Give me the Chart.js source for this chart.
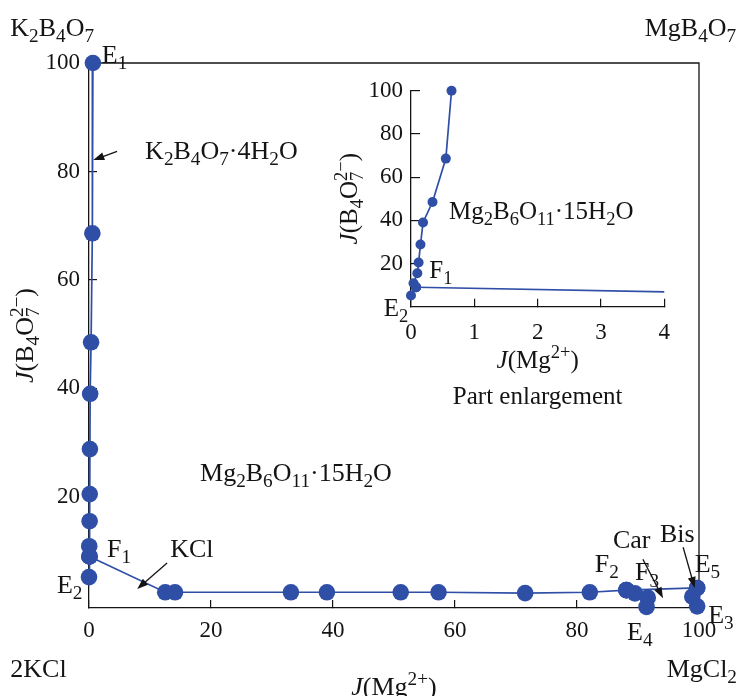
<!DOCTYPE html>
<html lang="en">
<head>
<meta charset="UTF-8">
<title>K2B4O7 – MgB4O7 – 2KCl – MgCl2 diagram</title>
<script src="https://cdn.jsdelivr.net/npm/chart.js"></script>
<style>
  body { margin: 0; background: #fff; }
  .wrap { position: relative; width: 739px; height: 696px; }
  #mainChart { position: absolute; left: 0; top: 0; }
  #insetChart { position: absolute; left: 330px; top: 60px; }
</style>
</head>
<body>
<div class="wrap">
  <canvas id="mainChart" width="739" height="696"></canvas>
  <canvas id="insetChart" width="360" height="360"></canvas>
</div>
<script>
// ---- data ----
// E1 -> F1 (K2B4O7·4H2O / Mg2B6O11·15H2O boundary)
const e1f1X = [0.64, 0.55, 0.34, 0.19, 0.15, 0.12, 0.10, 0.04, 0.08];
const e1f1Y = [100, 68.6, 48.5, 39.0, 28.8, 20.5, 15.5, 10.9, 9.0];
// E2 -> F1
const e2f1X = [0, 0.08];
const e2f1Y = [5.2, 9.0];
// F1 -> F2 (KCl line)
const f1f2X = [0.08, 12.5, 14.1, 33.1, 39.0, 51.1, 57.3, 71.5, 82.1, 88.1];
const f1f2Y = [9.0, 2.4, 2.4, 2.4, 2.4, 2.4, 2.4, 2.25, 2.4, 2.8];
// F2 -> E5
const f2e5X = [88.1, 99.7];
const f2e5Y = [2.8, 3.2];
// F2 -> F3 -> E4
const f2e4X = [88.1, 89.5, 91.6, 91.4];
const f2e4Y = [2.8, 2.2, 1.4, -0.3];
// E5 -> E3
const e5e3X = [99.7, 98.9, 99.7];
const e5e3Y = [3.2, 1.6, -0.2];

const mainXTicks = [0, 20, 40, 60, 80, 100];
const mainYTicks = [20, 40, 60, 80, 100];
const insetXTicks = [0, 1, 2, 3, 4];
const insetYTicks = [20, 40, 60, 80, 100];

const BLUE = '#2f4ea6';
const INK = '#141414';
const SERIF = '"Liberation Serif", "Times New Roman", serif';

// ---- rich text: _{sub} ^{sup} *italic* ----
function richParts(str) {
    const re = /_\{([^}]*)\}|\^\{([^}]*)\}|\*([^*]*)\*|([^_^*]+)/g;
    const parts = [];
    let m;
    while ((m = re.exec(str))) {
        if (m[1] !== undefined) parts.push({ t: m[1], k: 'sub' });
        else if (m[2] !== undefined) parts.push({ t: m[2], k: 'sup' });
        else if (m[3] !== undefined) parts.push({ t: m[3], k: 'it' });
        else parts.push({ t: m[4], k: 'n' });
    }
    return parts;
}

function drawRich(ctx, str, x, y, size, align) {
    const items = [];
    let cx = 0, prev = null;
    richParts(str).forEach(p => {
        const small = p.k === 'sub' || p.k === 'sup';
        const fs = small ? size * 0.74 : size;
        const font = (p.k === 'it' ? 'italic ' : '') + fs + 'px ' + SERIF;
        ctx.font = font;
        const w = ctx.measureText(p.t).width;
        let x0 = cx;
        const stack = small && prev && prev.k !== p.k;
        if (stack) x0 = prev.x;
        const dy = p.k === 'sub' ? size * 0.24 : p.k === 'sup' ? -size * 0.4 : 0;
        items.push({ t: p.t, x: x0, dy, font });
        cx = stack ? Math.max(cx, x0 + w) : x0 + w;
        prev = small ? { k: p.k, x: x0 } : null;
    });
    let off = 0;
    if (align === 'center') off = -cx / 2;
    if (align === 'right') off = -cx;
    ctx.fillStyle = INK;
    ctx.textBaseline = 'alphabetic';
    ctx.textAlign = 'left';
    items.forEach(it => {
        ctx.font = it.font;
        ctx.fillText(it.t, x + off + it.x, y + it.dy);
    });
}

function drawArrow(ctx, x1, y1, x2, y2) {
    const a = Math.atan2(y2 - y1, x2 - x1);
    const len = 11, hw = 4;
    ctx.save();
    ctx.strokeStyle = INK;
    ctx.fillStyle = INK;
    ctx.lineWidth = 1.3;
    ctx.beginPath();
    ctx.moveTo(x1, y1);
    ctx.lineTo(x2 - Math.cos(a) * len * 0.8, y2 - Math.sin(a) * len * 0.8);
    ctx.stroke();
    ctx.beginPath();
    ctx.moveTo(x2, y2);
    ctx.lineTo(x2 - Math.cos(a) * len - Math.sin(a) * hw, y2 - Math.sin(a) * len + Math.cos(a) * hw);
    ctx.lineTo(x2 - Math.cos(a) * len + Math.sin(a) * hw, y2 - Math.sin(a) * len - Math.cos(a) * hw);
    ctx.closePath();
    ctx.fill();
    ctx.restore();
}

function pts(xs, ys) {
    return xs.map((x, i) => ({ x: x, y: ys[i] }));
}

function series(xs, ys, r, clip) {
    return {
        data: pts(xs, ys),
        showLine: true,
        borderColor: BLUE,
        backgroundColor: BLUE,
        borderWidth: 1.7,
        pointRadius: r,
        pointHoverRadius: r,
        pointBorderWidth: 0,
        tension: 0,
        clip: clip === undefined ? false : clip
    };
}

// ---- labels (in data units of each chart) ----
const mainLabels = [
    { text: 'E_{1}', x: 2.1, y: 100.0 },
    { text: 'K_{2}B_{4}O_{7}·4H_{2}O', x: 9.2, y: 82.3 },
    { text: 'Mg_{2}B_{6}O_{11}·15H_{2}O', x: 18.2, y: 23.0 },
    { text: 'F_{1}', x: 2.95, y: 8.9 },
    { text: 'KCl', x: 13.3, y: 8.9 },
    { text: 'E_{2}', x: -5.25, y: 2.3 },
    { text: 'F_{2}', x: 82.9, y: 6.1 },
    { text: 'Car', x: 85.9, y: 10.5 },
    { text: 'F_{3}', x: 89.5, y: 4.6 },
    { text: 'Bis', x: 93.6, y: 11.6 },
    { text: 'E_{5}', x: 99.3, y: 6.1 },
    { text: 'E_{3}', x: 101.5, y: -3.3 },
    { text: 'E_{4}', x: 88.2, y: -6.4 },
    { text: 'K_{2}B_{4}O_{7}', x: -12.9, y: 105.0 },
    { text: 'MgB_{4}O_{7}', x: 91.1, y: 105.0 },
    { text: '2KCl', x: -12.9, y: -13.2 },
    { text: 'MgCl_{2}', x: 94.7, y: -13.2 }
];
const mainArrows = [
    { x1: 4.6, y1: 83.7, x2: 0.7, y2: 82.1 },
    { x1: 12.8, y1: 7.8, x2: 7.9, y2: 3.0 },
    { x1: 90.8, y1: 8.5, x2: 94.1, y2: 1.3 },
    { x1: 97.4, y1: 10.7, x2: 99.3, y2: 3.2 }
];
const insetLabels = [
    { text: 'Mg_{2}B_{6}O_{11}·15H_{2}O', x: 0.6, y: 40.8 },
    { text: 'F_{1}', x: 0.29, y: 13.5 },
    { text: 'E_{2}', x: -0.43, y: -4.2 }
];

function axisOpts(ticks, min, max, fit, tl, pad) {
    return {
        type: 'linear',
        min: min,
        max: max,
        afterBuildTicks: s => { s.ticks = ticks.map(v => ({ value: v })); },
        afterFit: fit,
        grid: { drawOnChartArea: false, drawTicks: true, tickLength: tl, color: INK, lineWidth: 1.2 },
        border: { display: true, color: INK, width: 1.3 },
        ticks: { color: INK, padding: pad, font: { family: SERIF, size: 23 } }
    };
}

// ---- main chart ----
const mainDecor = {
    id: 'mainDecor',
    beforeDatasetsDraw(chart) {
        const { ctx, chartArea: ca } = chart;
        ctx.save();
        ctx.strokeStyle = INK;
        ctx.lineWidth = 1.3;
        ctx.beginPath();
        ctx.moveTo(ca.left, ca.top);
        ctx.lineTo(ca.right, ca.top);
        ctx.lineTo(ca.right, ca.bottom);
        ctx.stroke();
        ctx.restore();
    },
    afterDraw(chart) {
        const { ctx, chartArea: ca, scales: { x, y } } = chart;
        ctx.save();
        mainLabels.forEach(l => {
            drawRich(ctx, l.text, x.getPixelForValue(l.x), y.getPixelForValue(l.y), 26, 'left');
        });
        mainArrows.forEach(a => {
            drawArrow(ctx, x.getPixelForValue(a.x1), y.getPixelForValue(a.y1),
                x.getPixelForValue(a.x2), y.getPixelForValue(a.y2));
        });
        drawRich(ctx, '*J*(Mg^{2+})', (ca.left + ca.right) / 2, 695, 26, 'center');
        ctx.translate(33, (ca.top + ca.bottom) / 2);
        ctx.rotate(-Math.PI / 2);
        drawRich(ctx, '*J*(B_{4}O_{7}^{2−})', 0, 0, 26, 'center');
        ctx.restore();
    }
};

new Chart(document.getElementById('mainChart'), {
    type: 'scatter',
    data: {
        datasets: [
            series(e1f1X, e1f1Y, 8.3),
            series(e2f1X, e2f1Y, 8.3),
            series(f1f2X, f1f2Y, 8.3),
            series(f2e5X, f2e5Y, 8.3),
            series(f2e4X, f2e4Y, 8.3),
            series(e5e3X, e5e3Y, 8.3)
        ]
    },
    options: {
        responsive: false,
        animation: false,
        layout: { padding: { left: 0, top: 63, right: 40, bottom: 0 } },
        plugins: { legend: { display: false }, tooltip: { enabled: false } },
        scales: {
            x: axisOpts(mainXTicks, 0, 100, s => { s.height = 88; }, -8, 17),
            y: axisOpts(mainYTicks, -0.5, 100, s => { s.width = 89; }, -8, 17)
        }
    },
    plugins: [mainDecor]
});

// ---- inset (part enlargement) ----
const insetDecor = {
    id: 'insetDecor',
    afterDraw(chart) {
        const { ctx, chartArea: ca, scales: { x, y } } = chart;
        ctx.save();
        insetLabels.forEach(l => {
            drawRich(ctx, l.text, x.getPixelForValue(l.x), y.getPixelForValue(l.y), 25, 'left');
        });
        const cx = (ca.left + ca.right) / 2;
        drawRich(ctx, '*J*(Mg^{2+})', cx, 308, 25, 'center');
        drawRich(ctx, 'Part enlargement', cx, 344, 25, 'center');
        ctx.translate(27, (ca.top + ca.bottom) / 2);
        ctx.rotate(-Math.PI / 2);
        drawRich(ctx, '*J*(B_{4}O_{7}^{2−})', 0, 0, 25, 'center');
        ctx.restore();
    }
};

new Chart(document.getElementById('insetChart'), {
    type: 'scatter',
    data: {
        datasets: [
            series(e1f1X, e1f1Y, 5),
            series(e2f1X, e2f1Y, 5),
            series(f1f2X, f1f2Y, 5, { left: 10, top: 10, right: 0, bottom: 10 })
        ]
    },
    options: {
        responsive: false,
        animation: false,
        layout: { padding: { left: 0, top: 26.7, right: 18, bottom: 0 } },
        plugins: { legend: { display: false }, tooltip: { enabled: false } },
        scales: {
            x: axisOpts(insetXTicks, 0, 4, s => { s.height = 113.3; }, -8, 20),
            y: axisOpts(insetYTicks, 0, 100, s => { s.width = 81; }, -9, 17)
        }
    },
    plugins: [insetDecor]
});
</script>
</body>
</html>
